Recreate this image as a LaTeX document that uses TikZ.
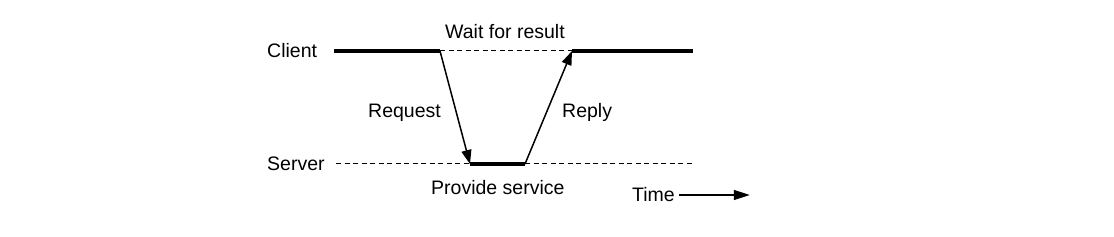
\documentclass[tikz,border=0pt]{standalone}
\usepackage{fontspec}
\setmainfont{Liberation Sans}
\usetikzlibrary{arrows.meta}
\begin{document}
\begin{tikzpicture}[x=1pt,y=-1pt,
  lbl/.style={anchor=base west,inner sep=0pt,font=\fontsize{19.5}{22}\selectfont},
  pt/.style={inner sep=0pt,minimum size=0pt},
  busy/.style={line width=4pt},
  idle/.style={line width=1pt,dash pattern=on 5pt off 3.5pt},
  msg/.style={line width=1.5pt,-{Triangle[length=14pt,width=10pt]}}]
\useasboundingbox (0,0) rectangle (1114,237);
% time points
\node[pt] (c0) at (334,51) {};
\node[pt] (c1) at (440,51) {};
\node[pt] (c2) at (572,51) {};
\node[pt] (c3) at (693,51) {};
\node[pt] (s0) at (336,164) {};
\node[pt] (s1) at (470,164) {};
\node[pt] (s2) at (525,164) {};
\node[pt] (s3) at (692,164) {};
% client
\draw[busy] (c0) -- (c1);
\draw[idle] (c1) -- (c2);
\draw[busy] (c2) -- (c3);
% server
\draw[idle] (s0) -- (s1);
\draw[busy] (s1) -- (s2);
\draw[idle] (s2) -- (s3);
% messages
\draw[msg] (c1.center) -- (s1.center);
\draw[msg] (s2.center) -- (c2.center);
% labels
\node[lbl] (client) at (267,58) {Client};
\node[lbl] (server) at (267,171) {Server};
\node[lbl] (wait) at (445,39) {Wait for result};
\node[lbl] (req) at (368,118) {Request};
\node[lbl] (rep) at (562,118) {Reply};
\node[lbl] (prov) at (431,195) {Provide service};
\node[lbl] (time) at (632,202) {Time};
\node[pt] (t0) at (679,195) {};
\node[pt] (t1) at (750,195) {};
\draw[line width=1.3pt,-{Triangle[length=16pt,width=10pt]}] (t0) -- (t1);
\end{tikzpicture}
\end{document}
